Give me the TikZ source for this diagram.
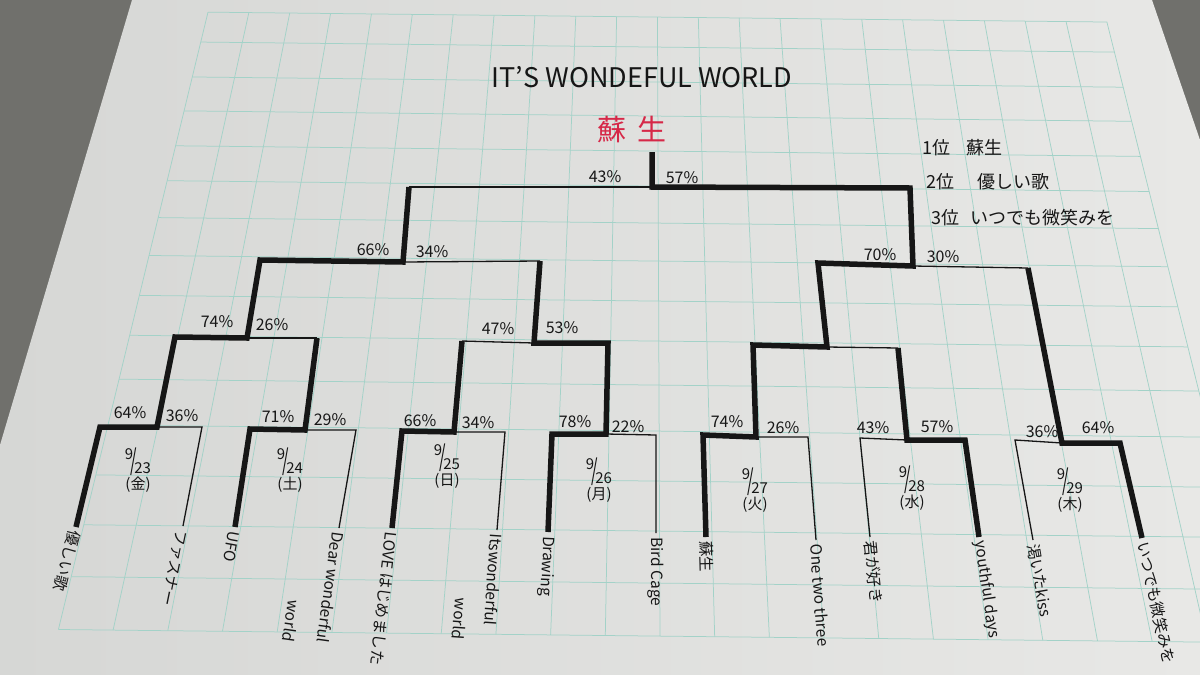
\documentclass[tikz,border=0pt]{standalone}
\usepackage{fontspec}
\setmainfont{Noto Sans CJK JP}
\usepackage{graphicx}

\definecolor{desk}{RGB}{112,112,108}
\definecolor{paperL}{RGB}{214,215,213}
\definecolor{paperR}{RGB}{232,232,230}
\definecolor{gridteal}{RGB}{163,210,200}
\definecolor{ink}{RGB}{22,22,22}
\definecolor{redink}{RGB}{214,40,72}

% stacked date such as 9/23 (金)
\newcommand{\dayfrac}[3]{\raisebox{0.5em}{#1}\kern-0.18em\raisebox{-0.2em}{\scalebox{1.1}[1.9]{/}}\kern-0.18em\raisebox{-0.4em}{#2}\\[0.05em](#3)}

\tikzset{
    win/.style={ink, line width=5.5pt, line join=miter},
    lose/.style={ink, line width=1.3pt},
    pct/.style={ink, font=\fontsize{16}{19}\selectfont},
    leaftext/.style={ink, anchor=west, inner sep=4pt, font=\fontsize{15.5}{19}\selectfont},
    datelabel/.style={ink, align=center, font=\fontsize{15}{18}\selectfont},
    gridline/.style={draw=gridteal, line width=0.75pt},
}

\begin{document}
\begin{tikzpicture}[x=1pt, y=-1pt]
    \useasboundingbox (0,0) rectangle (1200,675);
    \clip (0,0) rectangle (1200,675);

    % Desk and sheet
    \fill[desk] (0,0) rectangle (1200,675);
    \shade[left color=paperL, right color=paperR]
        (132,0) -- (1152,0) -- (1200,140) -- (1200,675) -- (0,675) -- (0,445) -- cycle;

    % Graph paper, lines run to a vanishing point above the sheet
    \foreach \k in {0,...,22} {
        \pgfmathsetmacro{\xt}{208+40.86*\k}
        \pgfmathsetmacro{\xb}{650+(\xt-650)*(2452/1832)}
        \draw[gridline] (\xt,{17+0.011*(\xt-650)}) -- (\xb,{636+0.011*(\xb-650)});
    }
    \foreach \yc in {17,47,82,116,151,186,223,261,301,341,385,431,481,531,583,636} {
        \pgfmathsetmacro{\sc}{(\yc+1815)/1832}
        \pgfmathsetmacro{\xl}{650-442*\sc}
        \pgfmathsetmacro{\xr}{650+457*\sc}
        \draw[gridline] (\xl,{\yc+0.011*(\xl-650)}) -- (\xr,{\yc+0.011*(\xr-650)});
    }

    % Title and champion
    \node[ink, font=\fontsize{27}{30}\selectfont] (title) at (642,77) {IT'S WONDEFUL WORLD};
    \node[redink, font=\fontsize{29}{32}\selectfont] (champ) at (632,130) {蘇\hspace{0.35em}生};

    % Ranking
    \node[ink, anchor=west, font=\fontsize{18}{21}\selectfont] (rank1) at (919,148) {1位\hspace{0.9em}蘇生};
    \node[ink, anchor=west, font=\fontsize{18}{21}\selectfont] (rank2) at (923,182) {2位\hspace{1.3em}優しい歌};
    \node[ink, anchor=west, font=\fontsize{18}{21}\selectfont] (rank3) at (928,218) {3位\hspace{0.6em}いつでも微笑みを};

    % Entrants: bottom and top of each leg, with the song name
    \foreach \i/\bx/\by/\tx/\ty/\song in {
        1/76/527/100/427/優しい歌,
        2/183/526/202/427/ファスナー,
        3/235/527/250/429/UFO,
        4/339/528/356/430/Dear wonderful,
        5/392/528/402/431/LOVE はじめました,
        6/497/530/505/432/Itswonderful,
        7/548/532/552/434/Drawing,
        8/656/533/656/435/Bird Cage,
        9/706/537/703/435/蘇生,
        10/816/540/808/437/One two three,
        11/870/537/860/438/君が好き,
        12/979/537/965/440/youthful days,
        13/1033/540/1015/440/渇いたkiss,
        14/1142/538/1120/443/いつでも微笑みを} {
        \coordinate (b\i) at (\bx,\by);
        \coordinate (t\i) at (\tx,\ty);
        \pgfmathsetmacro{\legrot}{-90+atan((\bx-650)/2245)}
        \node[leaftext, rotate=\legrot] (lab\i) at (b\i) {\song};
    }
    \node[leaftext, rotate=-98, anchor=east] (lab4w) at (288,646) {world};
    \node[leaftext, rotate=-94, anchor=east] (lab6w) at (458,644) {world};

    % Match points
    \coordinate (m1) at (157,427);
    \coordinate (m2) at (305,430);
    \coordinate (m3) at (454,432);
    \coordinate (m4) at (606,434);
    \coordinate (m5) at (756,437);
    \coordinate (m6) at (907,440);
    \coordinate (m7) at (1062,443);
    \coordinate (q1a) at (175,337);
    \coordinate (q1) at (247,338);
    \coordinate (q1b) at (317,338);
    \coordinate (q2a) at (462,341);
    \coordinate (q2) at (534,343);
    \coordinate (q2b) at (608,343);
    \coordinate (q3a) at (753,345);
    \coordinate (q3) at (827,347);
    \coordinate (q3b) at (898,348);
    \coordinate (s1a) at (260,260);
    \coordinate (s1) at (403,262);
    \coordinate (s1b) at (540,261);
    \coordinate (s2a) at (818,263);
    \coordinate (s2) at (913,266);
    \coordinate (s2b) at (1028,268);
    \coordinate (fa) at (409,187);
    \coordinate (f) at (652,187);
    \coordinate (fb) at (910,188);
    \coordinate (ftop) at (652,152);

    % Losing sides
    \draw[lose] (b2) -- (t2) -- (m1);
    \draw[lose] (b4) -- (t4) -- (m2);
    \draw[lose] (b6) -- (t6) -- (m3);
    \draw[lose] (b8) -- (t8) -- (m4);
    \draw[lose] (b10) -- (t10) -- (m5);
    \draw[lose] (b11) -- (t11) -- (m6);
    \draw[lose] (b13) -- (t13) -- (m7);
    \draw[lose] (q1) -- (q1b);
    \draw[lose] (q2a) -- (q2);
    \draw[lose] (q3) -- (q3b);
    \draw[lose] (s1) -- (s1b);
    \draw[lose] (s2) -- (s2b);
    \draw[lose] (fa) -- (f);

    % Winning runs
    \draw[win] (b1) -- (t1) -- (m1) -- (q1a) -- (q1) -- (s1a) -- (s1) -- (fa);
    \draw[win] (b3) -- (t3) -- (m2) -- (q1b);
    \draw[win] (b5) -- (t5) -- (m3) -- (q2a);
    \draw[win] (b7) -- (t7) -- (m4) -- (q2b) -- (q2) -- (s1b);
    \draw[win] (b9) -- (t9) -- (m5) -- (q3a) -- (q3) -- (s2a) -- (s2) -- (fb) -- (f) -- (ftop);
    \draw[win] (b12) -- (t12) -- (m6) -- (q3b);
    \draw[win] (b14) -- (t14) -- (m7) -- (s2b);

    % Vote shares
    \foreach \i/\x/\y/\v in {
        1/605/177/43, 2/682/178/57,
        3/373/250/66, 4/432/252/34,
        5/880/255/70, 6/943/257/30,
        7/217/322/74, 8/272/325/26,
        9/498/329/47, 10/562/328/53,
        11/130/413/64, 12/182/416/36,
        13/278/417/71, 14/330/420/29,
        15/420/421/66, 16/478/423/34,
        17/575/422/78, 18/628/427/22,
        19/727/422/74, 20/783/428/26,
        21/873/428/43, 22/937/427/57,
        23/1042/432/36, 24/1098/428/64} {
        \node[pct] (pct\i) at (\x,\y) {\v\%};
    }

    % Dates of the first round
    \foreach \i/\x/\y/\d/\w in {
        1/138/470/23/金, 2/290/470/24/土, 3/447/466/25/日, 4/599/480/26/月,
        5/755/490/27/火, 6/912/488/28/水, 7/1070/490/29/木} {
        \node[datelabel] (date\i) at (\x,\y) {\dayfrac{9}{\d}{\w}};
    }
\end{tikzpicture}
\end{document}
